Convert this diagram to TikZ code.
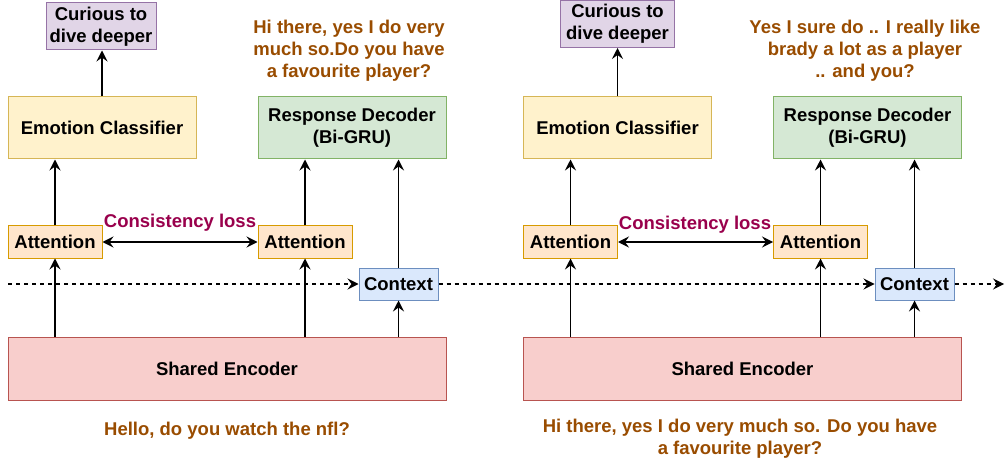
\documentclass[tikz,border=0pt]{standalone}
\usepackage{fontspec}
\setmainfont{Liberation Sans}
\usetikzlibrary{arrows.meta,positioning}

\definecolor{uttcol}{HTML}{994C00}
\definecolor{losscol}{HTML}{99004C}
\definecolor{emofill}{HTML}{FFF2CC}
\definecolor{emoline}{HTML}{D6B656}
\definecolor{decfill}{HTML}{D5E8D4}
\definecolor{decline}{HTML}{82B366}
\definecolor{attfill}{HTML}{FFE6CC}
\definecolor{attline}{HTML}{D79B00}
\definecolor{ctxfill}{HTML}{DAE8FC}
\definecolor{ctxline}{HTML}{6C8EBF}
\definecolor{encfill}{HTML}{F8CECC}
\definecolor{encline}{HTML}{B85450}
\definecolor{feelfill}{HTML}{E1D5E7}
\definecolor{feelline}{HTML}{9673A6}

\begin{document}
\begin{tikzpicture}[x=1pt,y=-1pt,line width=1.2pt,>={Stealth[length=11pt,width=11pt,inset=4pt]},
                    every node/.style={font=\bfseries\fontsize{18.5}{22}\selectfont},
                    box/.style={draw,inner sep=0pt,align=center,line width=1pt},
                    emo/.style={box,fill=emofill,draw=emoline,minimum width=188pt,minimum height=62pt},
                    dec/.style={box,fill=decfill,draw=decline,minimum width=188pt,minimum height=62pt},
                    att/.style={box,fill=attfill,draw=attline,minimum width=94pt,minimum height=32pt},
                    ctx/.style={box,fill=ctxfill,draw=ctxline,minimum width=79pt,minimum height=32pt},
                    enc/.style={box,fill=encfill,draw=encline,minimum width=438pt,minimum height=63pt},
                    feel/.style={box,fill=feelfill,draw=feelline,minimum width=110pt,minimum height=47pt},
                    utt/.style={align=center,text=uttcol,inner sep=0pt},
                    loss/.style={text=losscol,inner sep=0pt}]
                \useasboundingbox (0,0) rectangle (1005,468);

                % first turn
                \node[feel] (cur_1) at (101,26.5)  {Curious to\\dive deeper};
                \node[emo]  (ec_1)  at (102,128)   {Emotion Classifier};
                \node[dec]  (rd_1)  at (352,128)   {Response Decoder\\(Bi-GRU)};
                \node[utt]  (out_1) at (349,51)    {Hi there, yes I do very\\much so.Do you have\\a favourite player?};
                \node[att]  (att_1) at (55,242)    {Attention};
                \node[att]  (att_2) at (305,242)   {Attention};
                \node[ctx]  (ctx_1) at (398.5,284) {Context};
                \node[enc]  (enc_1) at (227,368.5) {Shared Encoder};
                \node[utt]  (in_1)  at (227,431)   {Hello, do you watch the nfl?};
                \node[loss] (cl_1)  at (180,223)   {Consistency loss};

                % second turn
                \node[feel,minimum width=114pt] (cur_2) at (617.5,24) {Curious to\\dive deeper};
                \node[emo]  (ec_2)  at (617.5,128) {Emotion Classifier};
                \node[dec]  (rd_2)  at (867.5,128) {Response Decoder\\(Bi-GRU)};
                \node[utt]  (out_2) at (865,51)    {Yes I sure do .. I really like\\brady a lot as a player\\.. and you?};
                \node[att]  (att_3) at (570.5,242) {Attention};
                \node[att]  (att_4) at (820.5,242) {Attention};
                \node[ctx]  (ctx_2) at (914.5,284) {Context};
                \node[enc]  (enc_2) at (742.5,368.5) {Shared Encoder};
                \node[utt]  (in_2)  at (740,439)   {Hi there, yes I do very much so. Do you have\\a favourite player?};
                \node[loss] (cl_2)  at (695,225)   {Consistency loss};

                \coordinate (h_0) at (8,284);
                \coordinate (h_1) at (1004,284);

                \draw[->] (enc_1.north -| att_1) -- (att_1);
                \draw[->] (enc_1.north -| att_2) -- (att_2);
                \draw[->] (enc_1.north -| ctx_1) -- (ctx_1);
                \draw[->] (att_1.north) -- (att_1.north |- ec_1.south);
                \draw[->] (att_2.north) -- (att_2.north |- rd_1.south);
                \draw[->] (ctx_1.north) -- (ctx_1.north |- rd_1.south);
                \draw[->] (ec_1.north) -- (ec_1.north |- cur_1.south);
                \draw[<->] (att_1) -- (att_2);

                \draw[->] (enc_2.north -| att_3) -- (att_3);
                \draw[->] (enc_2.north -| att_4) -- (att_4);
                \draw[->] (enc_2.north -| ctx_2) -- (ctx_2);
                \draw[->] (att_3.north) -- (att_3.north |- ec_2.south);
                \draw[->] (att_4.north) -- (att_4.north |- rd_2.south);
                \draw[->] (ctx_2.north) -- (ctx_2.north |- rd_2.south);
                \draw[->] (ec_2.north) -- (ec_2.north |- cur_2.south);
                \draw[<->] (att_3) -- (att_4);

                % carried context
                \draw[->,dash pattern=on 4pt off 4pt] (h_0) -- (ctx_1);
                \draw[->,dash pattern=on 4pt off 4pt] (ctx_1) -- (ctx_2);
                \draw[->,dash pattern=on 4pt off 4pt] (ctx_2) -- (h_1);
\end{tikzpicture}
\end{document}
